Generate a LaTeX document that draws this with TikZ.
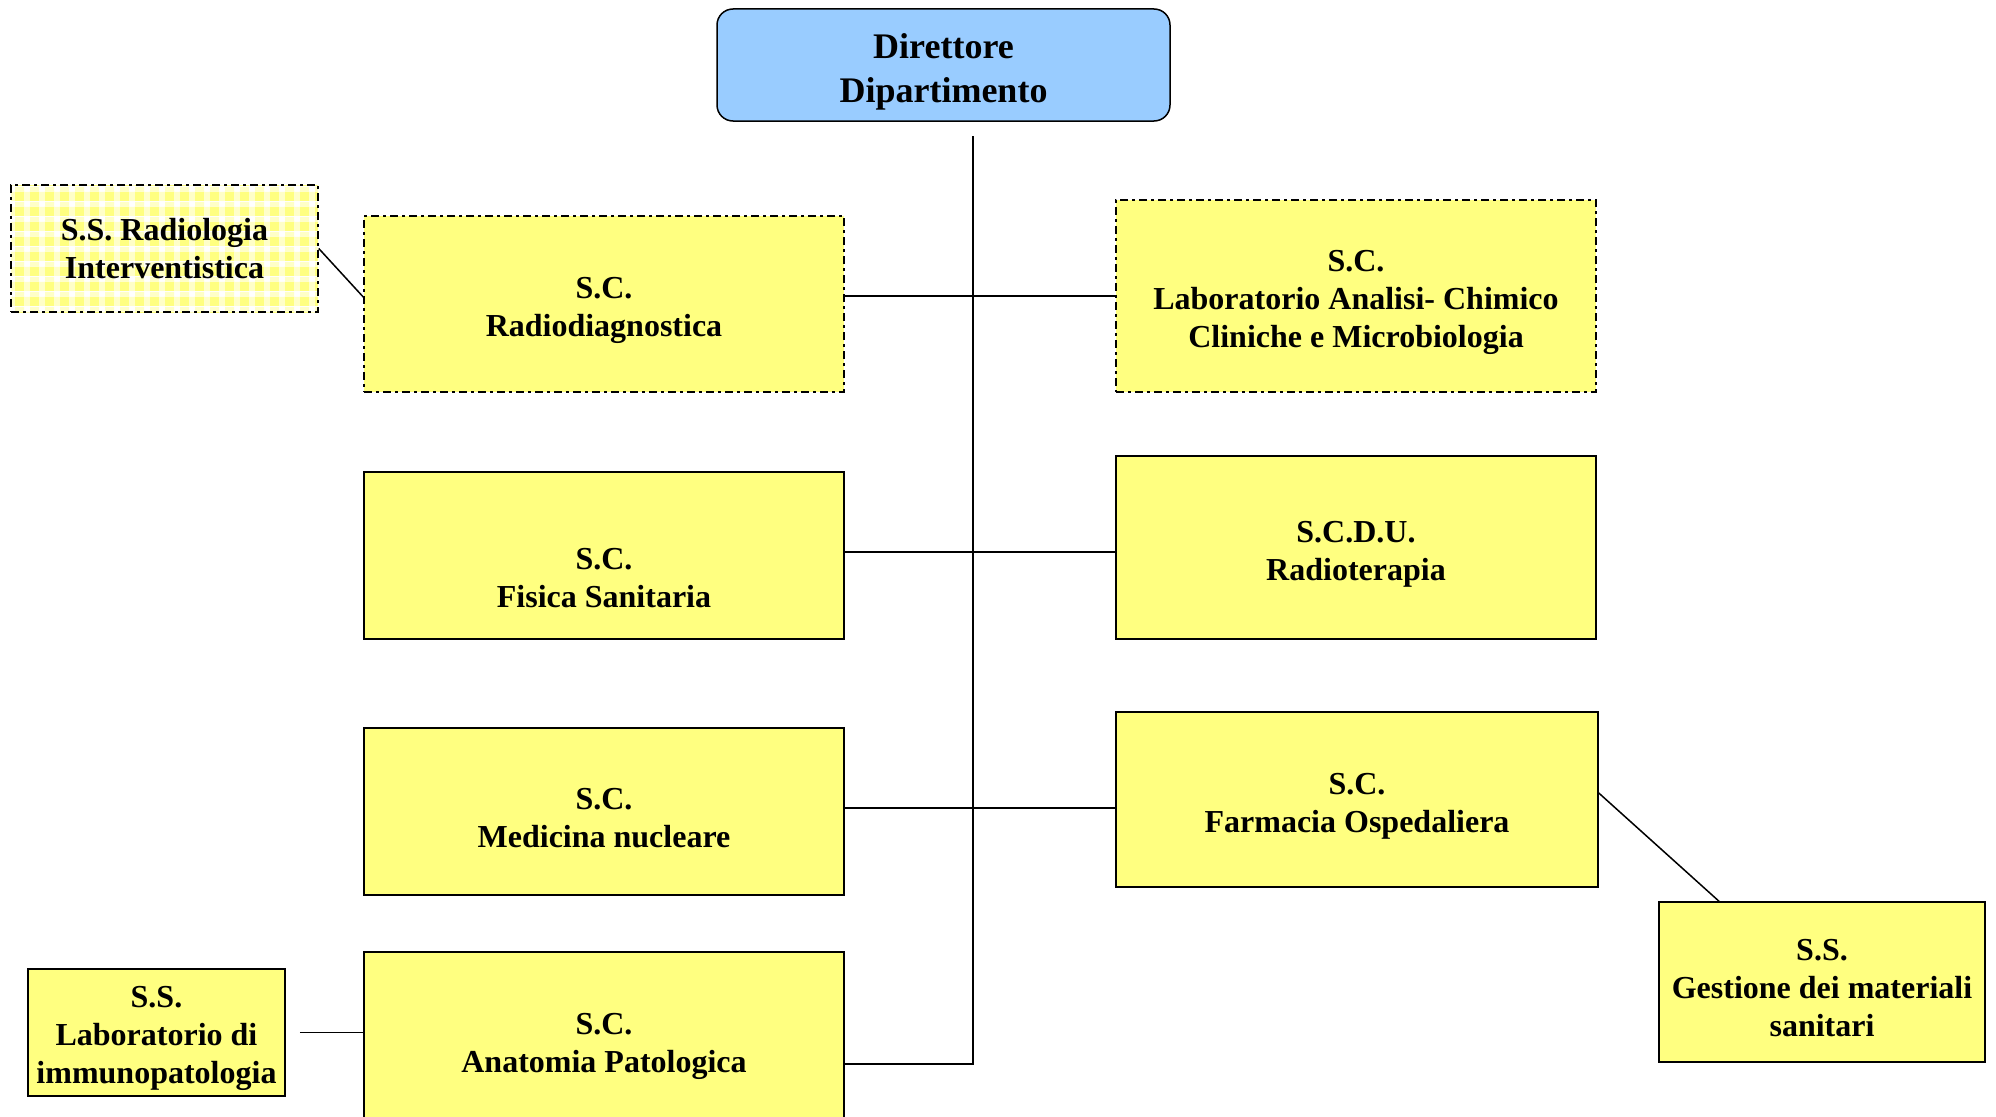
\documentclass[tikz,border=0pt]{standalone}
\usepackage{fontspec}
\setmainfont{Liberation Serif}
\usetikzlibrary{patterns.meta}
\definecolor{boxyellow}{RGB}{255,255,128}
\definecolor{paleyellow}{RGB}{255,255,200}
\definecolor{headblue}{RGB}{153,204,255}
\newcommand{\hdstrut}{\rule{0pt}{34pt}}
\newcommand{\bigstrut}{\rule{0pt}{38pt}}
\tikzdeclarepattern{
  name=gingham,
  type=colored,
  bottom left={(0pt,0pt)},
  top right={(15pt,15pt)},
  tile size={(15pt,15pt)},
  code={
    \fill[boxyellow] (0pt,0pt) rectangle (10pt,10pt);
    \fill[paleyellow] (10pt,0pt) rectangle (15pt,10pt);
    \fill[paleyellow] (0pt,10pt) rectangle (10pt,15pt);
    \fill[white] (10pt,10pt) rectangle (15pt,15pt);
  }
}
\tikzset{
  unit/.style={draw, line width=1.5pt, fill=boxyellow, inner sep=0pt,
    align=center, font=\fontsize{32pt}{38pt}\selectfont\bfseries},
  dashunit/.style={unit, dash pattern=on 8pt off 4pt on 3pt off 4pt},
  head/.style={unit, fill=headblue, rounded corners=16pt,
    font=\fontsize{36pt}{44pt}\selectfont\bfseries},
  link/.style={line width=1.5pt}
}

\begin{document}
\begin{tikzpicture}[x=1pt,y=-1pt]
\useasboundingbox (0,0) rectangle (1996,1116);
\node[head, minimum width=453pt, minimum height=112pt] (dir) at (943.5,65) {\bigstrut Direttore\\Dipartimento};

\node[dashunit, minimum width=307pt, minimum height=127pt, pattern=gingham] (ssrad) at (164.5,248.5) {S.S. Radiologia\\Interventistica};
\node[dashunit, minimum width=480pt, minimum height=176pt] (rd) at (604,304) {\hdstrut S.C.\\Radiodiagnostica};
\node[dashunit, minimum width=480pt, minimum height=192pt] (lab) at (1356,296) {\hdstrut S.C.\\Laboratorio Analisi- Chimico\\Cliniche e Microbiologia};

\node[unit, minimum width=480pt, minimum height=167pt] (fis) at (604,555.5) {};
\node[unit, fill=none, draw=none] at ([yshift=-16pt]fis.center) {\hdstrut S.C.\\Fisica Sanitaria};
\node[unit, minimum width=480pt, minimum height=183pt] (rt) at (1356,547.5) {\hdstrut S.C.D.U.\\Radioterapia};

\node[unit, minimum width=480pt, minimum height=167pt] (med) at (604,811.5) {\hdstrut S.C.\\Medicina nucleare};
\node[unit, minimum width=482pt, minimum height=175pt] (farm) at (1357,799.5) {\hdstrut S.C.\\Farmacia Ospedaliera};

\node[unit, minimum width=480pt, minimum height=176pt] (an) at (604,1040) {\hdstrut S.C.\\Anatomia Patologica};
\node[unit, minimum width=257pt, minimum height=127pt] (imm) at (156.5,1032.5) {\hdstrut S.S.\\Laboratorio di\\immunopatologia};
\node[unit, minimum width=326pt, minimum height=160pt] (ges) at (1822,982) {\hdstrut S.S.\\Gestione dei materiali\\sanitari};

\coordinate (trunktop) at (973,136);
\coordinate (trunkbot) at (973,1064);
\coordinate (immend) at ([xshift=14pt]imm.east);

\draw[link] (trunktop) -- (trunkbot) -- (trunkbot -| an.east);
\draw[link] (rd.east |- lab.west) -- (lab.west);
\draw[link] (fis.east |- 0,552) -- (rt.west |- 0,552);
\draw[link] (med.east |- 0,808) -- (farm.west |- 0,808);
\draw[link] (ssrad.east) -- (rd.west |- 0,297);
\draw[link] (immend) -- (immend -| an.west);
\draw[link] (farm.east |- 0,793) -- ([xshift=-103pt]ges.north);
\end{tikzpicture}
\end{document}
